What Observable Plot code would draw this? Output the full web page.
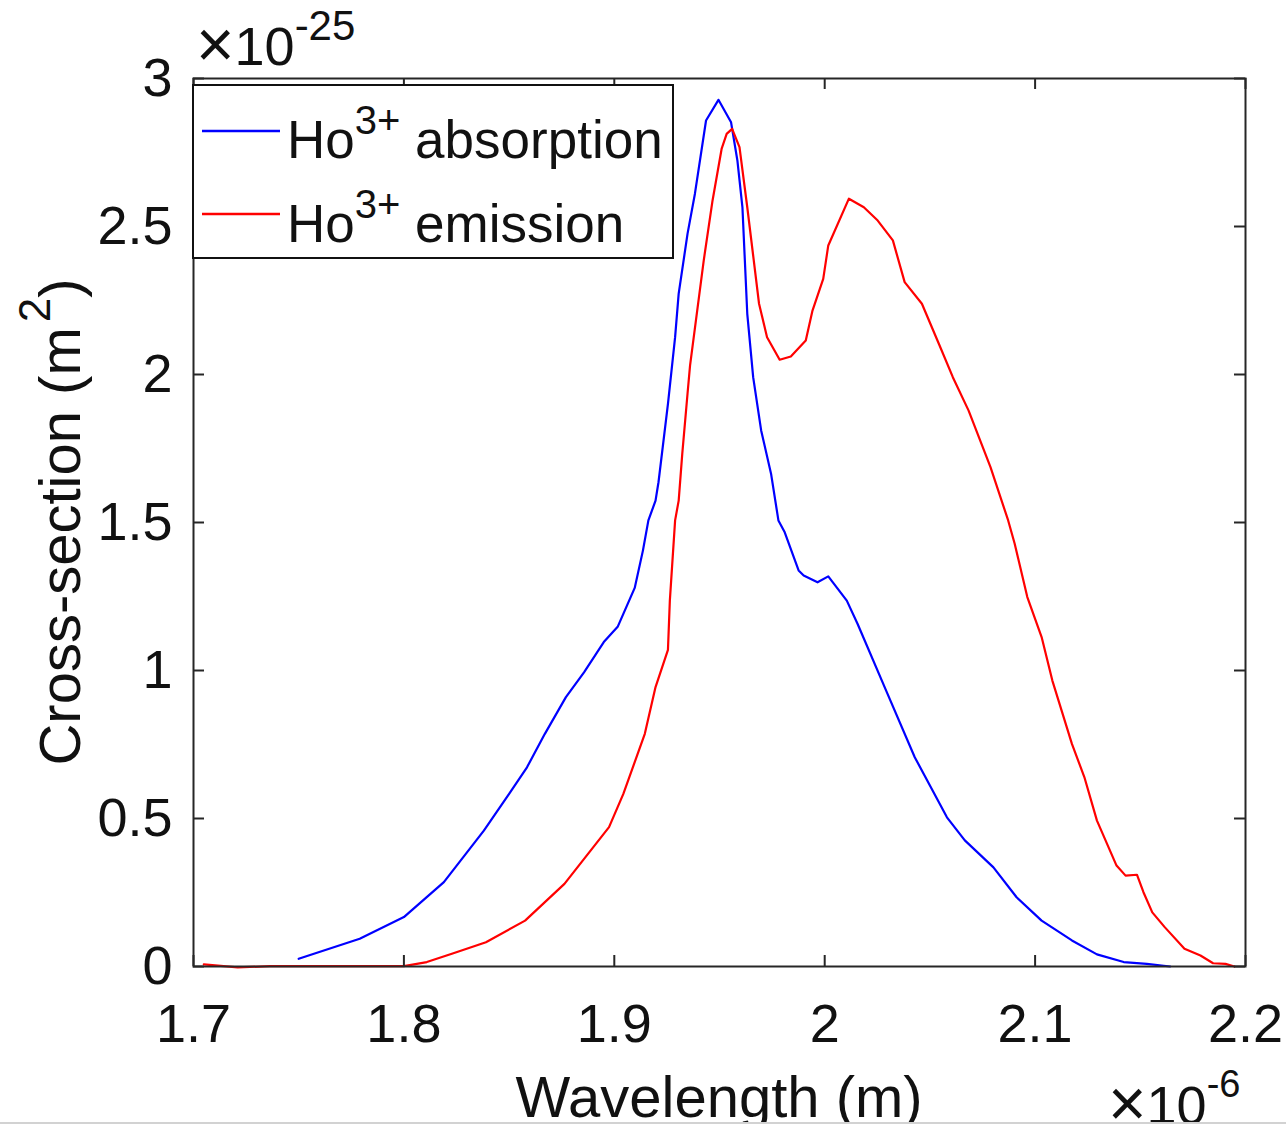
<!DOCTYPE html>
<html>
<head>
<meta charset="utf-8">
<script src="https://cdn.jsdelivr.net/npm/d3@7"></script>
<script src="https://cdn.jsdelivr.net/npm/@observablehq/plot@0.6"></script>
<style>
  html, body { margin: 0; padding: 0; background: white; }
  #chart { position: relative; width: 1286px; height: 1124px; overflow: hidden; }
</style>
</head>
<body>
<div id="chart"></div>
<script>
// Wavelength in units of 1e-6 m, cross-section in units of 1e-25 m^2
const absWavelength = [1.750, 1.779, 1.800, 1.819, 1.838, 1.850, 1.8585, 1.867, 1.877, 1.8856, 1.895, 1.9017, 1.9097, 1.9136, 1.9162, 1.9196, 1.921, 1.9255, 1.9289, 1.9306, 1.9348, 1.9383, 1.9436, 1.9495, 1.9555, 1.9585, 1.9609, 1.9632, 1.966, 1.9698, 1.9745, 1.978, 1.981, 1.9876, 1.990, 1.9966, 2.0017, 2.0105, 2.0156, 2.0292, 2.0428, 2.0581, 2.0666, 2.0802, 2.0912, 2.1031, 2.1175, 2.1294, 2.1421, 2.1531, 2.1642];
const absCross = [0.026, 0.094, 0.167, 0.285, 0.459, 0.583, 0.673, 0.786, 0.910, 0.994, 1.096, 1.149, 1.279, 1.405, 1.507, 1.574, 1.636, 1.901, 2.126, 2.273, 2.475, 2.610, 2.858, 2.928, 2.852, 2.723, 2.565, 2.205, 1.991, 1.811, 1.665, 1.507, 1.467, 1.338, 1.321, 1.298, 1.318, 1.236, 1.158, 0.932, 0.707, 0.504, 0.426, 0.335, 0.234, 0.155, 0.088, 0.041, 0.015, 0.009, 0.0];

const emWavelength = [1.7049, 1.721, 1.7363, 1.800, 1.8109, 1.8228, 1.839, 1.8576, 1.8763, 1.8975, 1.9043, 1.9145, 1.9196, 1.9255, 1.9264, 1.9289, 1.9306, 1.9323, 1.9348, 1.936, 1.9425, 1.9467, 1.951, 1.9534, 1.956, 1.9595, 1.9632, 1.9688, 1.9726, 1.9786, 1.9839, 1.991, 1.9942, 1.9993, 2.0017, 2.0115, 2.0186, 2.0252, 2.0324, 2.038, 2.0462, 2.0543, 2.0609, 2.0684, 2.0788, 2.0872, 2.0903, 2.0963, 2.1031, 2.1082, 2.1175, 2.1234, 2.1294, 2.1387, 2.143, 2.1484, 2.1515, 2.1557, 2.1616, 2.171, 2.1786, 2.1846, 2.1905, 2.1947];
const emCross = [0.007, -0.003, 0.001, 0.001, 0.015, 0.043, 0.082, 0.155, 0.279, 0.471, 0.583, 0.786, 0.944, 1.070, 1.236, 1.507, 1.574, 1.732, 1.935, 2.030, 2.385, 2.588, 2.762, 2.813, 2.830, 2.768, 2.565, 2.239, 2.126, 2.050, 2.061, 2.115, 2.216, 2.323, 2.436, 2.594, 2.565, 2.520, 2.453, 2.312, 2.239, 2.103, 1.991, 1.878, 1.687, 1.507, 1.428, 1.248, 1.113, 0.966, 0.752, 0.640, 0.493, 0.341, 0.307, 0.310, 0.251, 0.183, 0.133, 0.060, 0.037, 0.011, 0.009, 0.0];

const xTicks = [1.7, 1.8, 1.9, 2.0, 2.1, 2.2];
const xTickLabels = ["1.7", "1.8", "1.9", "2", "2.1", "2.2"];
const yTicks = [0, 0.5, 1, 1.5, 2, 2.5, 3];
const yTickLabels = ["0", "0.5", "1", "1.5", "2", "2.5", "3"];

const seriesNames = ["absorption", "emission"];
const seriesColors = ["#0000ff", "#ff0000"];
const xLabel = "Wavelength (m)";
const yLabel = "Cross-section (m";
const xExponent = "-6";
const yExponent = "-25";

const absData = absWavelength.map((x, i) => ({x, y: absCross[i]}));
const emData = emWavelength.map((x, i) => ({x, y: emCross[i]}));

const W = 1286, H = 1124;
const mL = 193, mR = 41, mT = 78, mB = 158;
const innerH = H - mT - mB, innerW = W - mL - mR;
const tickLen = 11;
const axisColor = "#262626";
const fontFam = "'Liberation Sans', Arial, Helvetica, sans-serif";

const plot = Plot.plot({
  width: W,
  height: H,
  marginLeft: mL,
  marginRight: mR,
  marginTop: mT,
  marginBottom: mB,
  style: {fontFamily: fontFam, color: "#111", background: "white", overflow: "visible"},
  x: {domain: [1.7, 2.2]},
  y: {domain: [0, 3]},
  marks: [
    Plot.line(absData, {x: "x", y: "y", stroke: seriesColors[0], strokeWidth: 2.2}),
    Plot.line(emData, {x: "x", y: "y", stroke: seriesColors[1], strokeWidth: 2.2}),
    // inward ticks on all four sides
    Plot.tickX(xTicks, {x: d => d, insetTop: innerH - tickLen, stroke: axisColor, strokeWidth: 2}),
    Plot.tickX(xTicks, {x: d => d, insetBottom: innerH - tickLen, stroke: axisColor, strokeWidth: 2}),
    Plot.tickY(yTicks, {y: d => d, insetRight: innerW - tickLen, stroke: axisColor, strokeWidth: 2}),
    Plot.tickY(yTicks, {y: d => d, insetLeft: innerW - tickLen, stroke: axisColor, strokeWidth: 2}),
    Plot.frame({stroke: axisColor, strokeWidth: 2}),
    Plot.axisX({ticks: xTicks, tickFormat: (d) => xTickLabels[xTicks.indexOf(d)], tickSize: 0, tickPadding: 37, fontSize: 54, label: null}),
    Plot.axisY({ticks: yTicks, tickFormat: (d) => yTickLabels[yTicks.indexOf(d)], tickSize: 0, tickPadding: 21, fontSize: 54, label: null})
  ]
});

document.getElementById("chart").appendChild(plot);

const svg = d3.select(plot);

// Legend
const lg = svg.append("g").attr("font-family", fontFam).attr("fill", "#111").attr("text-anchor", "start");
lg.append("rect").attr("x", 193).attr("y", 85).attr("width", 480).attr("height", 173)
  .attr("fill", "white").attr("stroke", "#111").attr("stroke-width", 2);
const rows = [{base: 158, line: 131}, {base: 242, line: 214}];
seriesNames.forEach((name, i) => {
  lg.append("line").attr("x1", 202).attr("x2", 280).attr("y1", rows[i].line).attr("y2", rows[i].line)
    .attr("stroke", seriesColors[i]).attr("stroke-width", 2.6);
  const t = lg.append("text").attr("x", 287).attr("y", rows[i].base).attr("font-size", 53).attr("text-anchor", "start");
  t.append("tspan").text("Ho");
  t.append("tspan").attr("font-size", 40).attr("dy", -24).text("3+");
  t.append("tspan").attr("dy", 24).text(" " + name);
});

// Axis labels
svg.append("text").attr("x", (mL + W - mR) / 2).attr("y", 1117).attr("text-anchor", "middle")
  .attr("font-family", fontFam).attr("font-size", 58).attr("fill", "#111").text(xLabel);

const yl = svg.append("text").attr("transform", `translate(80, ${(mT + H - mB) / 2}) rotate(-90)`)
  .attr("text-anchor", "middle").attr("font-family", fontFam).attr("font-size", 58).attr("fill", "#111");
yl.append("tspan").text(yLabel);
yl.append("tspan").attr("font-size", 44).attr("dy", -30).attr("dx", 5).text("2");
yl.append("tspan").attr("dy", 30).text(")");

// Exponent labels
const ey = svg.append("text").attr("x", 196).attr("y", 65).attr("font-family", fontFam)
  .attr("font-size", 54).attr("fill", "#111").attr("text-anchor", "start");
ey.append("tspan").attr("font-size", 66).attr("dy", 2).text("×");
ey.append("tspan").attr("dy", -2).text("10");
ey.append("tspan").attr("font-size", 42).attr("dy", -25).text(yExponent);

const ex = svg.append("text").attr("x", 1108).attr("y", 1124).attr("font-family", fontFam)
  .attr("font-size", 54).attr("fill", "#111").attr("text-anchor", "start");
ex.append("tspan").attr("font-size", 66).attr("dy", 2).text("×");
ex.append("tspan").attr("dy", -2).text("10");
ex.append("tspan").attr("font-size", 38).attr("dy", -27).text(xExponent);

// bottom grey strip of the screenshot
svg.append("rect").attr("x", 0).attr("y", 1122).attr("width", W).attr("height", 2).attr("fill", "#d2d2d2");
</script>
</body>
</html>
